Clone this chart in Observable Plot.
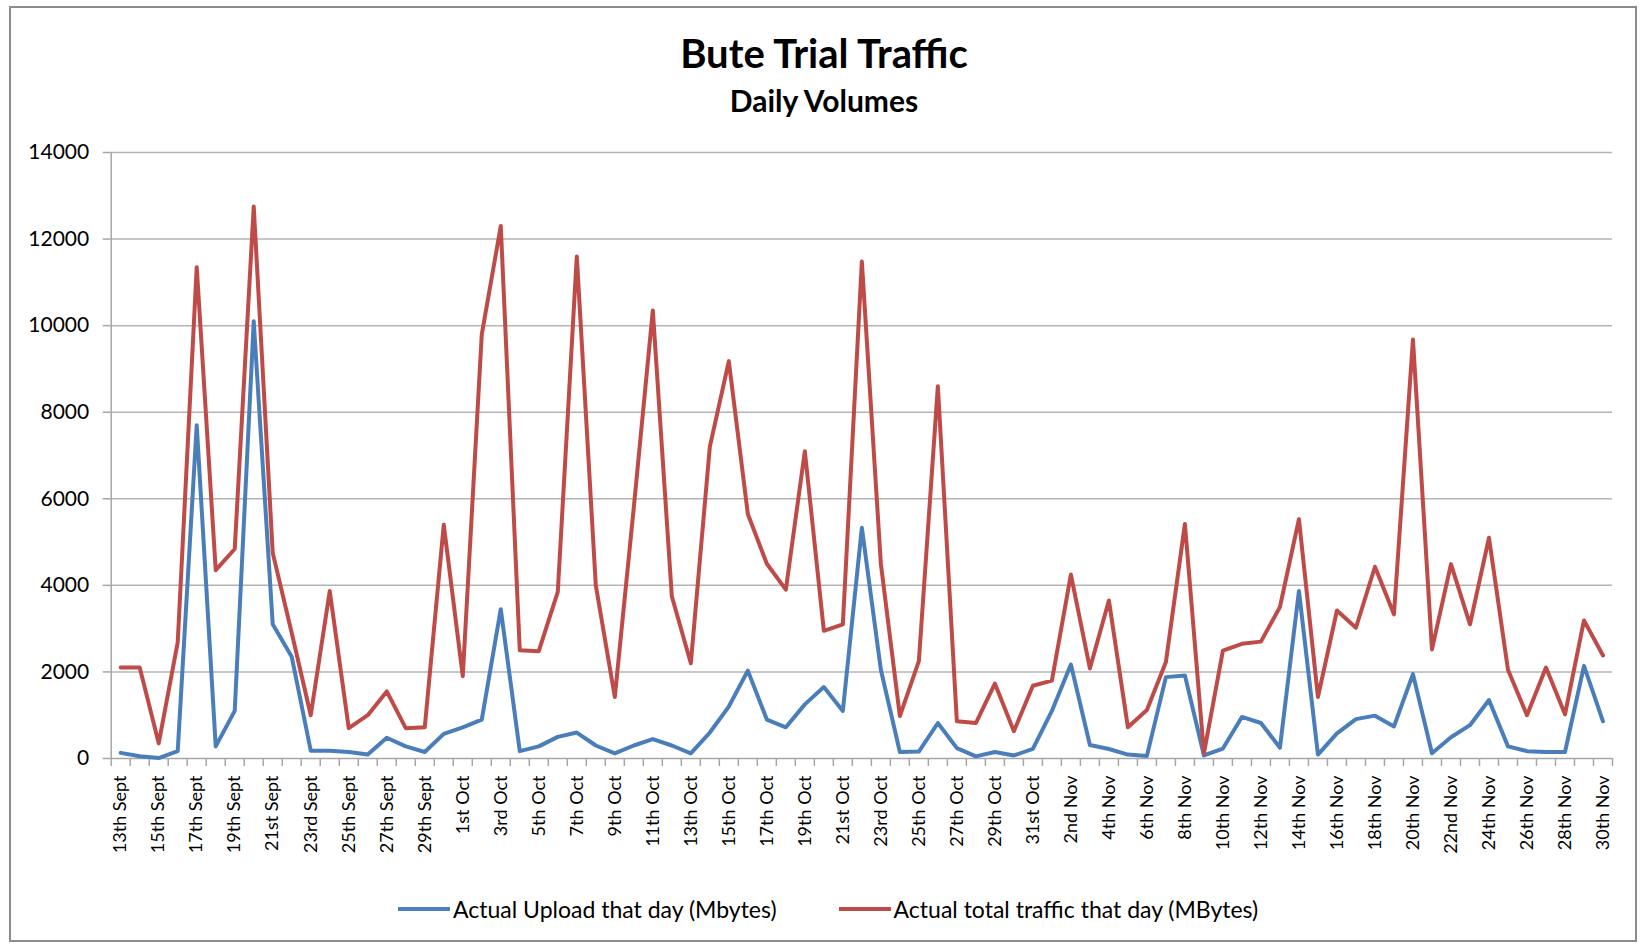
<!DOCTYPE html>
<html>
<head>
<meta charset="utf-8">
<script src="https://cdn.jsdelivr.net/npm/d3@7"></script>
<script src="https://cdn.jsdelivr.net/npm/@observablehq/plot@0.6"></script>
<style>
  html, body { margin: 0; padding: 0; background: #fff; }
  #wrap { position: relative; width: 1640px; height: 944px; overflow: hidden; font-family: Lato, "Open Sans", sans-serif; color: #000; }
  #frame { position: absolute; left: 9px; top: 6px; width: 1628px; height: 936px; border: 2px solid #8c8c8c; box-sizing: border-box; }
  #title { position: absolute; left: 0; width: 1648px; top: 33px; text-align: center; font-weight: bold; font-size: 40px; line-height: 40px; }
  #subtitle { position: absolute; left: 0; width: 1648px; top: 85px; text-align: center; font-weight: bold; font-size: 30px; line-height: 30px; }
  #chart { position: absolute; left: 0; top: 125px; }
  #legend { position: absolute; left: 398px; top: 896px; height: 26px; display: flex; align-items: center; font-size: 23px; white-space: nowrap; }
  .item { display: flex; align-items: center; }
  .sw { display: inline-block; width: 52px; height: 4px; margin-right: 3px; }
</style>
</head>
<body>
<div id="wrap">
  <div id="frame"></div>
  <div id="title">Bute Trial Traffic</div>
  <div id="subtitle">Daily Volumes</div>
  <div id="chart"></div>
  <div id="legend"></div>
</div>
<script>
// Categories: one per day, 13th Sept – 30th Nov
const dates = [
  "13th Sept","14th Sept","15th Sept","16th Sept","17th Sept","18th Sept","19th Sept","20th Sept","21st Sept","22nd Sept",
  "23rd Sept","24th Sept","25th Sept","26th Sept","27th Sept","28th Sept","29th Sept","30th Sept",
  "1st Oct","2nd Oct","3rd Oct","4th Oct","5th Oct","6th Oct","7th Oct","8th Oct","9th Oct","10th Oct",
  "11th Oct","12th Oct","13th Oct","14th Oct","15th Oct","16th Oct","17th Oct","18th Oct","19th Oct","20th Oct",
  "21st Oct","22nd Oct","23rd Oct","24th Oct","25th Oct","26th Oct","27th Oct","28th Oct","29th Oct","30th Oct","31st Oct",
  "1st Nov","2nd Nov","3rd Nov","4th Nov","5th Nov","6th Nov","7th Nov","8th Nov","9th Nov","10th Nov",
  "11th Nov","12th Nov","13th Nov","14th Nov","15th Nov","16th Nov","17th Nov","18th Nov","19th Nov","20th Nov",
  "21st Nov","22nd Nov","23rd Nov","24th Nov","25th Nov","26th Nov","27th Nov","28th Nov","29th Nov","30th Nov"
];

// Series: Actual Upload that day (Mbytes)
const upload = [
  130,50,10,170,7700,280,1100,10100,3100,2350,180,180,150,90,480,280,150,570,
  720,900,3450,170,280,500,600,300,120,300,450,300,120,600,1200,2030,900,720,1250,1650,1100,5330,2050,150,160,820,240,50,150,70,220,
  1100,2170,310,220,90,60,1880,1920,70,230,960,820,250,3870,90,580,910,990,740,1950,120,490,770,1350,280,170,150,150,2140,860
];

// Series: Actual total traffic that day (MBytes)
const total = [
  2100,2100,350,2680,11350,4350,4840,12750,4750,2900,1000,3870,700,1000,1550,700,720,5400,
  1900,9800,12300,2500,2480,3850,11600,4000,1420,5800,10350,3750,2200,7200,9180,5650,4500,3900,7100,2950,3100,11480,4500,980,2250,8600,860,820,1730,630,1680,
  1800,4250,2080,3650,720,1120,2230,5420,120,2490,2650,2700,3500,5530,1420,3420,3020,4430,3330,9680,2520,4490,3100,5100,2050,1000,2100,1020,3190,2380
];

// Y tick values
const yTicks = [0, 2000, 4000, 6000, 8000, 10000, 12000, 14000];

const seriesNames = ["Actual Upload that day (Mbytes)", "Actual total traffic that day (MBytes)"];
const seriesColors = ["#4A7EBB", "#BE4B48"];

const rows = dates.map((d, i) => ({pos: i + 0.5, label: d, upload: upload[i], total: total[i]}));
const labeledPos = rows.filter((r, i) => i % 2 === 0).map(r => r.pos);
const boundaries = d3.range(0, dates.length + 1);
const gray = "#a6a6a6";

const chart = Plot.plot({
  width: 1640,
  height: 760,
  marginTop: 27,
  marginBottom: 127,
  marginLeft: 110.7,
  marginRight: 28,
  style: {fontFamily: "Lato, 'Open Sans', sans-serif", background: "transparent", color: "#000"},
  x: {type: "linear", domain: [0, dates.length], axis: null, label: null},
  y: {domain: [0, 14000], axis: null, label: null},
  marks: [
    Plot.ruleY(yTicks.filter(v => v > 0), {stroke: "#b4b4b4", strokeWidth: 1.5}),
    Plot.axisY({ticks: yTicks, tickSize: 8, tickFormat: () => "", label: null, color: gray, strokeWidth: 1.5}),
    Plot.axisY({ticks: yTicks, tickSize: 0, tickPadding: 22, tickFormat: d => String(d), label: null, fontSize: 21, color: "#000"}),
    Plot.ruleX([0], {stroke: gray, strokeWidth: 1.5}),
    Plot.ruleY([0], {stroke: gray, strokeWidth: 1.5}),
    Plot.axisX({ticks: boundaries, tickSize: 8, tickFormat: () => "", label: null, color: gray, strokeWidth: 1.5}),
    Plot.axisX({ticks: labeledPos, tickSize: 0, tickPadding: 17, tickRotate: -90, fontSize: 18, label: null,
      tickFormat: p => dates[Math.round(p - 0.5)], color: "#000"}),
    Plot.lineY(rows, {x: "pos", y: "upload", stroke: seriesColors[0], strokeWidth: 4, strokeLinejoin: "round"}),
    Plot.lineY(rows, {x: "pos", y: "total", stroke: seriesColors[1], strokeWidth: 4, strokeLinejoin: "round"})
  ]
});
document.getElementById("chart").appendChild(chart);

const legend = document.getElementById("legend");
seriesNames.forEach((name, k) => {
  const item = document.createElement("span");
  item.className = "item";
  if (k > 0) item.style.marginLeft = "62px";
  const sw = document.createElement("span");
  sw.className = "sw";
  sw.style.background = seriesColors[k];
  const tx = document.createElement("span");
  tx.textContent = name;
  item.appendChild(sw);
  item.appendChild(tx);
  legend.appendChild(item);
});
</script>
</body>
</html>
